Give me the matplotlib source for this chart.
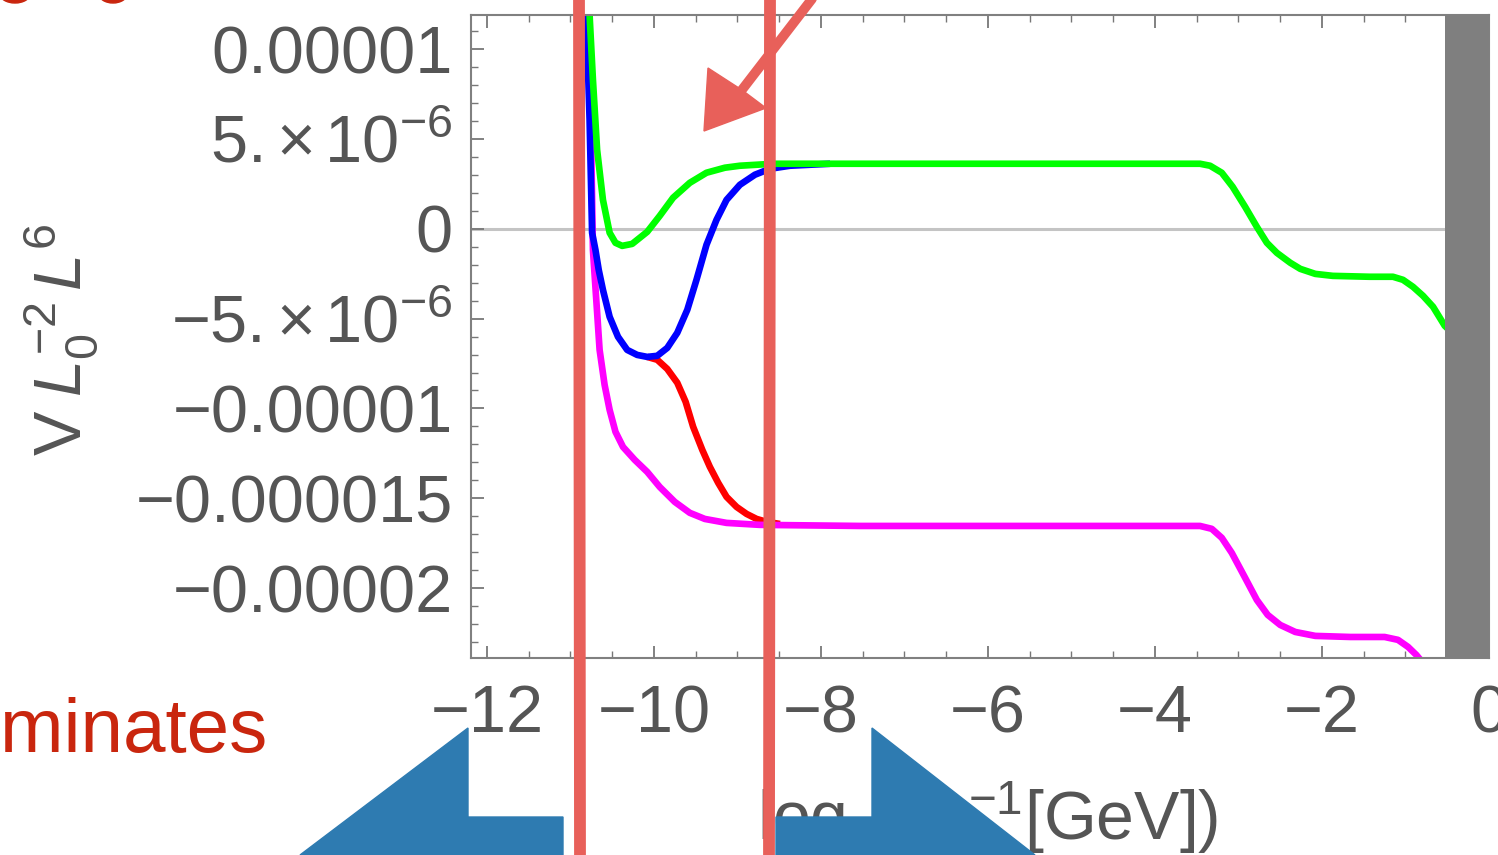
import numpy as np
import matplotlib
matplotlib.use('Agg')
import matplotlib.pyplot as plt
from matplotlib.ticker import MultipleLocator, FixedLocator, FixedFormatter
from matplotlib.patches import Polygon, Ellipse

plt.rcParams['font.family'] = ['Liberation Sans', 'DejaVu Sans']
plt.rcParams['mathtext.fontset'] = 'custom'
plt.rcParams['mathtext.rm'] = 'Liberation Sans'
plt.rcParams['mathtext.it'] = 'Liberation Sans:italic'
plt.rcParams['mathtext.bf'] = 'Liberation Sans:bold'

# log10(L^-1 [GeV]) on x, V L0^-2 L^6 in units of 1e-6 on y
green_x = [-10.77, -10.73, -10.68, -10.61, -10.53, -10.46, -10.38, -10.26, -10.08,
           -9.93, -9.77, -9.57, -9.37, -9.15, -8.97, -8.57, -7.89, -5.86, -3.46,
           -3.34, -3.20, -3.07, -2.92, -2.78, -2.66, -2.54, -2.38, -2.26, -2.08,
           -1.87, -1.43, -1.15, -1.03, -0.91, -0.79, -0.67, -0.53, 0.0]
green_v = [11.9, 8.30, 4.40, 1.61, -0.22, -0.78, -0.95, -0.84, -0.17,
           0.72, 1.73, 2.56, 3.12, 3.40, 3.51, 3.62, 3.62, 3.62, 3.62,
           3.51, 3.12, 2.34, 1.22, 0.11, -0.78, -1.34, -1.89, -2.23, -2.51,
           -2.62, -2.67, -2.67, -2.84, -3.23, -3.73, -4.34, -5.40, -7.70]

blue_x = [-10.81, -10.77, -10.74, -10.70, -10.66, -10.61, -10.53, -10.43, -10.32,
          -10.20, -10.08, -9.96, -9.84, -9.72, -9.60, -9.49, -9.37, -9.25, -9.13,
          -8.97, -8.79, -8.61, -8.37, -7.89]
blue_v = [11.9, 6.07, -0.22, -1.17, -2.30, -3.40, -4.90, -6.01, -6.74,
          -7.02, -7.13, -7.07, -6.63, -5.79, -4.51, -2.84, -0.89, 0.50, 1.61,
          2.45, 3.01, 3.34, 3.51, 3.62]

red_x = [-10.08, -9.96, -9.84, -9.72, -9.62, -9.53, -9.42, -9.33, -9.23, -9.13,
         -9.01, -8.89, -8.77, -8.65, -8.49]
red_v = [-7.13, -7.29, -7.80, -8.57, -9.63, -11.02, -12.31, -13.25, -14.14, -14.92,
         -15.48, -15.87, -16.15, -16.31, -16.43]

magenta_x = [-10.79, -10.75, -10.73, -10.69, -10.65, -10.59, -10.53, -10.46, -10.37,
             -10.23, -10.08, -9.93, -9.75, -9.57, -9.39, -9.13, -8.73, -7.53, -5.86,
             -3.46, -3.32, -3.20, -3.08, -2.92, -2.78, -2.65, -2.50, -2.32, -2.08,
             -1.66, -1.25, -1.09, -0.97, -0.87, -0.80]
magenta_v = [11.9, 4.40, -1.17, -3.95, -6.74, -8.69, -10.08, -11.30, -12.14,
             -12.86, -13.53, -14.37, -15.20, -15.81, -16.15, -16.37, -16.48, -16.54, -16.54,
             -16.54, -16.70, -17.20, -18.04, -19.43, -20.66, -21.49, -22.05, -22.44, -22.66,
             -22.72, -22.72, -22.88, -23.27, -23.72, -24.11]

curves = [(red_x, red_v, '#ff0000'), (magenta_x, magenta_v, '#ff00ff'),
          (blue_x, blue_v, '#0000ff'), (green_x, green_v, '#00ff00')]

y_ticks = [1e-5, 5e-6, 0, -5e-6, -1e-5, -1.5e-5, -2e-5]
y_labels = ['0.00001', r'$\mathregular{5.{\times}\,10^{-6}}$', '0',
            r'$\mathregular{-5.{\times}\,10^{-6}}$', '\u22120.00001', '\u22120.000015',
            '\u22120.00002']
x_ticks = [-12, -10, -8, -6, -4, -2, 0]
shade_span = (-0.53, 0.0)

fig = plt.figure(figsize=(14.98, 8.55), dpi=100)
ax = fig.add_axes([471 / 1498, 197 / 855, 1018 / 1498, 643 / 855])

ax.axhline(0, color='#c4c4c4', lw=2.2, zorder=1)
for xs, vs, c in curves:
    ax.plot(xs, np.array(vs) * 1e-6, color=c, lw=4.8, zorder=2,
            solid_joinstyle='round', solid_capstyle='butt')
ax.axvspan(*shade_span, color='#7f7f7f', lw=0, zorder=3)

ax.set_xlim(-12.19, 0)
ax.set_ylim(-2.389e-5, 1.19e-5)

ax.xaxis.set_major_locator(FixedLocator(x_ticks))
ax.xaxis.set_minor_locator(MultipleLocator(0.5))
ax.yaxis.set_major_locator(FixedLocator(y_ticks))
ax.yaxis.set_major_formatter(FixedFormatter(y_labels))
ax.yaxis.set_minor_locator(MultipleLocator(1e-6))

for s in ax.spines.values():
    s.set_color('#808080')
    s.set_linewidth(1.5)
ax.tick_params(which='both', direction='in', top=True, right=True, color='#777777',
               labelcolor='#555555', labelsize=48)
ax.tick_params(axis='y', pad=13)
ax.tick_params(axis='x', pad=19)
ax.tick_params(which='major', length=9, width=1.3)
ax.tick_params(which='minor', length=5, width=1.0)

# slide overlay, pixel coordinates
ov = fig.add_axes([0, 0, 1, 1], zorder=10)
ov.set_xlim(0, 1498)
ov.set_ylim(855, 0)
ov.axis('off')
ov.patch.set_alpha(0)

ov.text(62, 340, r'$\mathregular{V}\;L_0^{\mathregular{-2}}\,L^{\mathregular{6}}$',
        rotation=90, ha='center', va='center', fontsize=48, color='#555555', zorder=1)
ov.text(757, 840, r'$\mathregular{log_{10}(}L^{\mathregular{-1}}\mathregular{[GeV])}$',
        ha='left', va='baseline', fontsize=49, color='#555555', zorder=1)

ov.text(268, 752, 'dominates', ha='right', va='baseline', fontsize=55,
        color='#c9260e', zorder=2)
ov.add_patch(Ellipse((15, -6), 30, 18, color='#c9260e', zorder=2))
ov.add_patch(Ellipse((113, -6), 28, 18, color='#c9260e', zorder=2))

blue_shape = '#2e7bb1'
ov.add_patch(Polygon([(300, 855), (468, 728), (468, 817), (563, 817), (563, 855)],
                     closed=True, color=blue_shape, zorder=5))
ov.add_patch(Polygon([(776, 817), (872, 817), (872, 728), (1035, 855), (776, 855)],
                     closed=True, color=blue_shape, zorder=5))

chalk = '#e8605a'
ov.plot([579, 580], [0, 855], color=chalk, lw=8.5, zorder=6, solid_capstyle='butt')
ov.plot([770, 769], [0, 855], color=chalk, lw=8.5, zorder=6, solid_capstyle='butt')
ov.plot([815, 738], [-5, 95], color=chalk, lw=7, zorder=6, solid_capstyle='round')
ov.add_patch(Polygon([(708, 68), (742, 90), (766, 108), (704, 131)],
                     closed=True, color=chalk, zorder=6))

fig.savefig('out.png', dpi=100)
